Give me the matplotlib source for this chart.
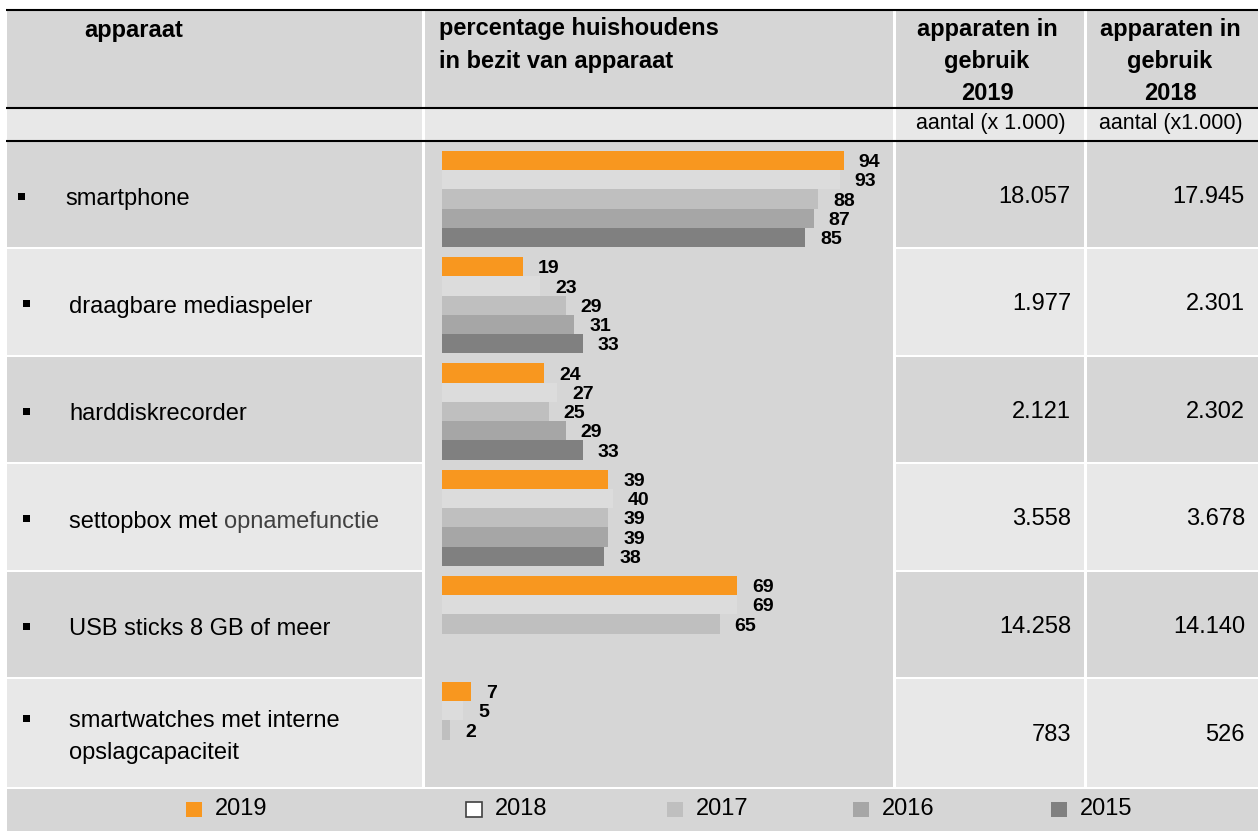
import matplotlib
matplotlib.use("Agg")
import matplotlib.pyplot as plt
from matplotlib.patches import Rectangle

plt.rcParams['font.family'] = ['Liberation Sans', 'DejaVu Sans']

# --- data -------------------------------------------------------------------
devices = ["smartphone", "draagbare mediaspeler", "harddiskrecorder",
           "settopbox met opnamefunctie", "USB sticks 8 GB of meer",
           "smartwatches met interne\nopslagcapaciteit"]
years = ["2019", "2018", "2017", "2016", "2015"]
pct_2019 = [94, 19, 24, 39, 69, 7]
pct_2018 = [93, 23, 27, 40, 69, 5]
pct_2017 = [88, 29, 25, 39, 65, 2]
pct_2016 = [87, 31, 29, 39, None, None]
pct_2015 = [85, 33, 33, 38, None, None]
in_use_2019 = [18057, 1977, 2121, 3558, 14258, 783]
in_use_2018 = [17945, 2301, 2302, 3678, 14140, 526]

header_device = "apparaat"
header_pct = ["percentage huishoudens", "in bezit van apparaat"]
header_2019 = ["apparaten in", "gebruik", "2019"]
header_2018 = ["apparaten in", "gebruik", "2018"]
unit_labels = ["aantal (x 1.000)", "aantal (x1.000)"]

# --- style / layout (pixels) -------------------------------------------------
W, H = 1258, 831
ORANGE = "#F8971F"
year_colors = [ORANGE, "#DCDCDC", "#BFBFBF", "#A6A6A6", "#808080"]
DARK_BG = "#D6D6D6"
LIGHT_BG = "#E8E8E8"

cols = [(7, 422), (425, 893), (896, 1084), (1087, 1258)]
row_edges = [141, 248, 355.5, 463, 570.5, 677.5, 787.5]
row_bg = [DARK_BG, LIGHT_BG] * 3


def fmt_nl(v):
    return f"{v:,}".replace(",", ".")


fig = plt.figure(figsize=(W / 100, H / 100), dpi=100)
bg = fig.add_axes([0, 0, 1, 1])
bg.set_xlim(0, W)
bg.set_ylim(H, 0)
bg.axis('off')


def cell(x0, x1, y0, y1, color):
    bg.add_patch(Rectangle((x0, y0), x1 - x0, y1 - y0, facecolor=color, edgecolor='none'))


# header + unit row
for x0, x1 in cols:
    cell(x0, x1, 11, 107, DARK_BG)
    cell(x0, x1, 109, 140, LIGHT_BG)

# body rows (chart column is one tall cell)
for i in range(len(devices)):
    y0, y1 = row_edges[i] + 1, row_edges[i + 1] - 1
    for k in (0, 2, 3):
        cell(cols[k][0], cols[k][1], y0, y1, row_bg[i])
cell(cols[1][0], cols[1][1], row_edges[0] + 1, row_edges[-1] - 1, DARK_BG)

# legend row
cell(7, W, 789, H, DARK_BG)

# thick rules
for yy in (10, 107.8, 141):
    bg.plot([6, W], [yy, yy], color='black', lw=1.5, solid_capstyle='butt')

# header text
bg.text(84, 37.5, header_device, fontsize=17, fontweight='bold', va='baseline')
for n, line in enumerate(header_pct):
    bg.text(439, 35.5 + n * 32.5, line, fontsize=17, fontweight='bold', va='baseline')
for cx, lines in ((987, header_2019), (1170, header_2018)):
    for n, line in enumerate(lines):
        bg.text(cx, 36 + n * 32, line, fontsize=17, fontweight='bold',
                va='baseline', ha='center')
bg.text(1066, 129.5, unit_labels[0], fontsize=15.5, ha='right', va='baseline')
bg.text(1243, 129.5, unit_labels[1], fontsize=15.5, ha='right', va='baseline')

# device labels and counts
for i, name in enumerate(devices):
    yc = (row_edges[i] + row_edges[i + 1]) / 2
    lines = name.split("\n")
    base = yc + 11 if len(lines) == 1 else yc - 5.5
    tx = 65 if i == 0 else 69
    bx = 18 if i == 0 else 23
    bg.add_patch(Rectangle((bx, base - 12.5), 7, 7, facecolor='black', edgecolor='none'))
    if name == "settopbox met opnamefunctie":
        t = bg.text(tx, base, "settopbox met", fontsize=17, va='baseline')
        bg.annotate("opnamefunctie", xy=(1, 0), xycoords=t, xytext=(6.6, 0),
                    textcoords='offset pixels', fontsize=17, color='#404040',
                    ha='left', va='bottom')
    else:
        for n, line in enumerate(lines):
            bg.text(tx, base + n * 32, line, fontsize=17, va='baseline')
    bg.text(1071, yc + 8.7, fmt_nl(in_use_2019[i]), fontsize=17, ha='right', va='baseline')
    bg.text(1245, yc + 8.7, fmt_nl(in_use_2018[i]), fontsize=17, ha='right', va='baseline')

# legend
legend_x = [186, 466, 667, 853, 1051]
for x, yr, col in zip(legend_x, years, year_colors):
    if yr == "2018":
        bg.add_patch(Rectangle((x, 802), 16, 15, facecolor='white', edgecolor='#404040', lw=1.2))
    else:
        bg.add_patch(Rectangle((x, 802), 16, 15, facecolor=col, edgecolor='none'))
    bg.text(x + 29, 815, yr, fontsize=17, va='baseline')

# --- bars ----------------------------------------------------------------------
ax = fig.add_axes([441.5 / W, 1 - 778.2 / H, 428 / W, 637.2 / H])
ax.set_xlim(0, 100)
ax.set_ylim(len(devices), 0)
ax.axis('off')
ax.patch.set_alpha(0)

slot = 0.1813
offset = 0.094
series = [pct_2019, pct_2018, pct_2017, pct_2016, pct_2015]
for j, vals in enumerate(series):
    ys = [i + offset + (j + 0.5) * slot for i, v in enumerate(vals) if v is not None]
    xs = [v for v in vals if v is not None]
    ax.barh(ys, xs, height=slot, color=year_colors[j], linewidth=0)
    for y, v in zip(ys, xs):
        ax.annotate(str(v), (v, y), xytext=(15, -6.6), textcoords='offset pixels',
                    ha='left', va='baseline', fontsize=14, fontweight='bold')

fig.savefig("out.png", dpi=100)
